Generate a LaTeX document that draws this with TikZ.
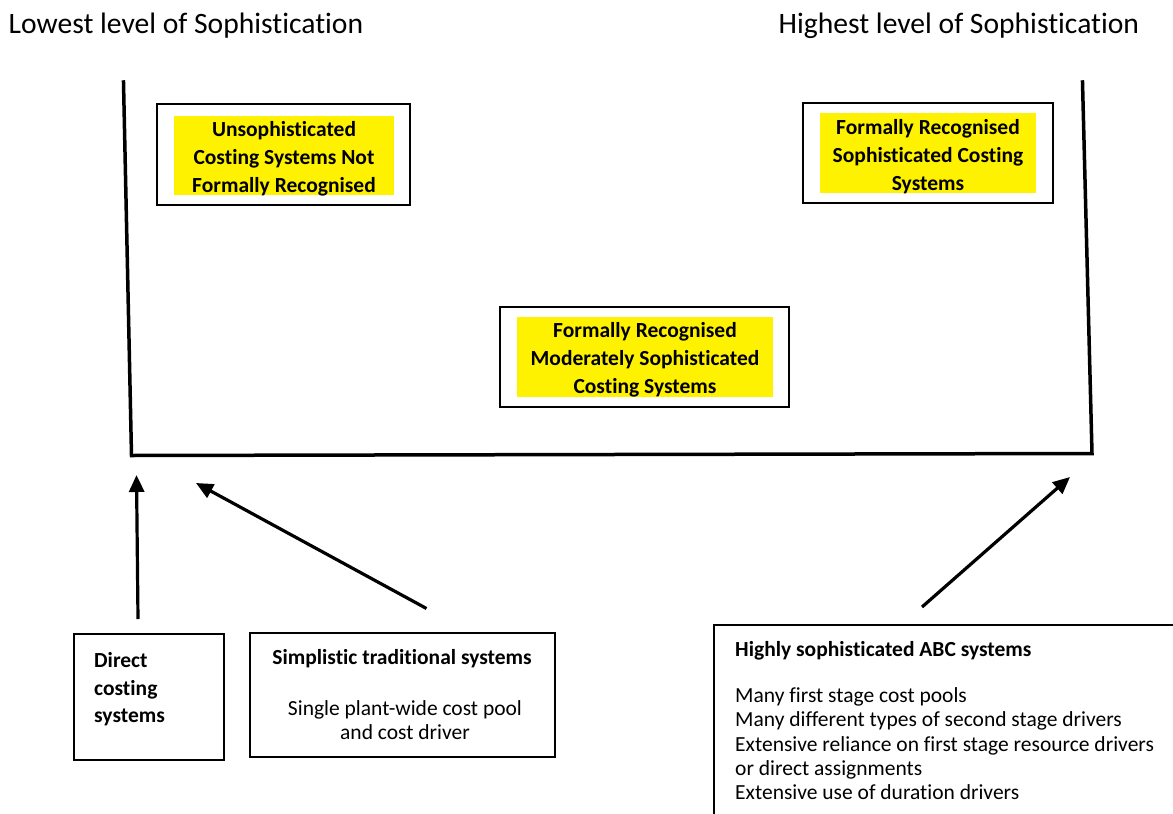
\documentclass[tikz,border=0pt]{standalone}
\usepackage{fontspec}
\setmainfont{Carlito}[Ligatures=NoCommon]
\usetikzlibrary{arrows.meta}
\begin{document}
\begin{tikzpicture}[x=1pt,y=-1pt,
  axis/.style={line width=3.5pt,line cap=rect},
  pointer/.style={line width=3.2pt,-{Triangle[length=17pt,width=15pt]}},
  frame/.style={draw,line width=1.8pt,inner sep=0pt},
  plainbox/.style={draw,line width=1.4pt,inner sep=0pt},
  hilite/.style={fill=yellow,inner sep=0pt},
  hitext/.style={inner sep=0pt,align=center,font=\bfseries\fontsize{21.5}{28}\selectfont},
  heading/.style={inner sep=0pt,font=\fontsize{29.6}{34}\selectfont},
  bodytext/.style={inner sep=0pt,font=\fontsize{21.5}{24.3}\selectfont},
  boldtext/.style={inner sep=0pt,font=\bfseries\fontsize{21.5}{27.5}\selectfont}]
\useasboundingbox (0,0) rectangle (1173,814);
\clip (0,0) rectangle (1173,814);

% headings
\node[heading,anchor=base west] (low) at (8.5,33) {Lowest level of Sophistication};
\node[heading,anchor=base west] (high) at (778.5,33) {Highest level of Sophistication};

% axis
\coordinate (tl) at (123.5,82);
\coordinate (bl) at (131.5,455.5);
\coordinate (br) at (1092,453.5);
\coordinate (tr) at (1082.5,82);
\draw[axis] (tl) -- (bl) -- (br) -- (tr);

% yellow boxes
\node[frame,minimum width=253pt,minimum height=101pt] (b1) at (283.5,154.5) {};
\node[hilite,minimum width=220pt,minimum height=79pt] (y1) at (284,155.5) {};
\node[hitext] (t1) at (284,158.5) {Unsophisticated\\Costing Systems Not\\Formally Recognised};

\node[frame,minimum width=250pt,minimum height=100pt] (b2) at (928,153) {};
\node[hilite,minimum width=216pt,minimum height=80pt] (y2) at (928,153) {};
\node[hitext] (t2) at (928,156.5) {Formally Recognised\\Sophisticated Costing\\Systems};

\node[frame,minimum width=289pt,minimum height=100pt] (b3) at (644.5,357) {};
\node[hilite,minimum width=256pt,minimum height=80pt] (y3) at (645,357) {};
\node[hitext] (t3) at (645,360) {Formally Recognised\\Moderately Sophisticated\\Costing Systems};

% bottom boxes
\node[plainbox,minimum width=150pt,minimum height=126pt] (d) at (149,697) {};
\node[boldtext,anchor=north west,align=left] (dt) at (94,652.5) {Direct\\costing\\systems};

\node[plainbox,minimum width=305pt,minimum height=124pt] (s) at (402.5,695) {};
\node[inner sep=0pt,font=\bfseries\fontsize{21.5}{26}\selectfont] (st) at (402,659) {Simplistic traditional systems};
\node[bodytext,align=center] (sb) at (405,720) {Single plant-wide cost pool\\and cost driver};

\draw[plainbox] (1185,625) -- (714,625) -- (714,830);
\coordinate (h) at (714,625);
\node[inner sep=0pt,anchor=west,font=\bfseries\fontsize{21.5}{26}\selectfont] (ht) at (735,651) {Highly sophisticated ABC systems};
\node[bodytext,anchor=north west,align=left] (hb) at (735,687.5) {Many first stage cost pools\\Many different types of second stage drivers\\Extensive reliance on first stage resource drivers\\or direct assignments\\Extensive use of duration drivers};

% arrows
\coordinate (a1s) at (138,619);
\coordinate (a1e) at (136.5,475);
\coordinate (a2s) at (426.5,608.5);
\coordinate (a2e) at (196,483);
\coordinate (a3s) at (922,607);
\coordinate (a3e) at (1070,477);
\draw[pointer] (a1s) -- (a1e);
\draw[pointer] (a2s) -- (a2e);
\draw[pointer] (a3s) -- (a3e);
\end{tikzpicture}
\end{document}
